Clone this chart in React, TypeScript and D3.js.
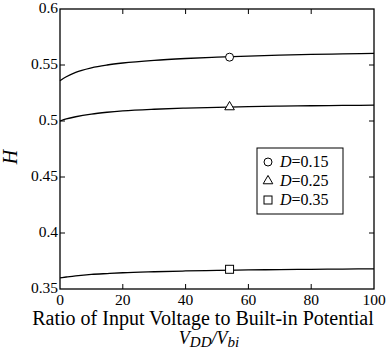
import React, { useEffect, useRef } from 'react';
import * as d3 from 'd3';

const xTicks = [0, 20, 40, 60, 80, 100];
const yTicks = [0.35, 0.4, 0.45, 0.5, 0.55, 0.6];
const yTickLabels = ['0.35', '0.4', '0.45', '0.5', '0.55', '0.6'];

const ratioX = [0, 2, 5, 10, 15, 20, 30, 40, 50, 60, 70, 80, 90, 100];
const hD015 = [0.536, 0.5395, 0.5435, 0.5475, 0.5500, 0.5518, 0.5542, 0.5558, 0.5570, 0.5580, 0.5588, 0.5594, 0.5599, 0.5603];
const hD025 = [0.500, 0.5018, 0.5038, 0.5062, 0.5078, 0.5090, 0.5105, 0.5115, 0.5122, 0.5128, 0.5133, 0.5136, 0.5139, 0.5141];
const hD035 = [0.3600, 0.3607, 0.3617, 0.3630, 0.3638, 0.3645, 0.3654, 0.3661, 0.3666, 0.3670, 0.3673, 0.3676, 0.3678, 0.3680];

const seriesNames = ['0.15', '0.25', '0.35'];
const markerKinds = ['circle', 'triangle', 'square'];
const markerX = [54, 54, 54];
const markerY = [0.557, 0.5125, 0.3676];

export default function App() {
  const ref = useRef<SVGSVGElement>(null);

  useEffect(() => {
    if (!ref.current) return;
    const svg = d3.select(ref.current);
    svg.selectAll('*').remove();

    const W = 388, H = 356;
    const left = 60, right = 374, top = 9, bottom = 289;
    const font = 'Liberation Serif';

    const x = d3.scaleLinear().domain([0, 100]).range([left, right]);
    const y = d3.scaleLinear().domain([0.35, 0.6]).range([bottom, top]);

    svg.attr('width', W).attr('height', H);
    svg.append('rect').attr('width', W).attr('height', H).attr('fill', '#fff');

    const tl = 5;
    const ax = svg.append('g').attr('stroke', '#000').attr('stroke-width', 1);
    xTicks.slice(1, -1).forEach(t => {
      ax.append('line').attr('x1', x(t)).attr('x2', x(t)).attr('y1', bottom).attr('y2', bottom - tl);
      ax.append('line').attr('x1', x(t)).attr('x2', x(t)).attr('y1', top).attr('y2', top + tl);
    });
    yTicks.slice(1, -1).forEach(t => {
      ax.append('line').attr('x1', left).attr('x2', left + tl).attr('y1', y(t)).attr('y2', y(t));
      ax.append('line').attr('x1', right).attr('x2', right - tl).attr('y1', y(t)).attr('y2', y(t));
    });
    ax.append('rect')
      .attr('x', left).attr('y', top)
      .attr('width', right - left).attr('height', bottom - top)
      .attr('fill', 'none').attr('stroke-width', 1.3);

    xTicks.forEach(t => {
      svg.append('text')
        .attr('x', x(t)).attr('y', 305)
        .attr('text-anchor', 'middle')
        .attr('font-family', font).attr('font-size', 15.5)
        .text(t);
    });
    yTicks.forEach((t, i) => {
      svg.append('text')
        .attr('x', left - 2).attr('y', y(t) + 4)
        .attr('text-anchor', 'end')
        .attr('font-family', font).attr('font-size', 15.5)
        .text(yTickLabels[i]);
    });

    svg.append('text')
      .attr('x', 203).attr('y', 325)
      .attr('text-anchor', 'middle')
      .attr('font-family', font).attr('font-size', 20)
      .text('Ratio of Input Voltage to Built-in Potential');

    const sub = svg.append('text')
      .attr('x', 209).attr('y', 344)
      .attr('text-anchor', 'middle')
      .attr('font-family', font).attr('font-size', 18).attr('font-style', 'italic');
    sub.append('tspan').text('V');
    sub.append('tspan').attr('dy', 3).attr('font-size', 15).text('DD');
    sub.append('tspan').attr('dy', -3).text('/V');
    sub.append('tspan').attr('dy', 3).attr('font-size', 15).text('bi');

    svg.append('text')
      .attr('transform', `translate(17,157) rotate(-90)`)
      .attr('text-anchor', 'middle')
      .attr('font-family', font).attr('font-size', 20).attr('font-style', 'italic')
      .text('H');

    const line = d3.line<number>()
      .x((_, i) => x(ratioX[i]))
      .y(d => y(d))
      .curve(d3.curveMonotoneX);

    [hD015, hD025, hD035].forEach(s => {
      svg.append('path')
        .attr('d', line(s))
        .attr('fill', 'none')
        .attr('stroke', '#000')
        .attr('stroke-width', 1.3);
    });

    const drawMarker = (kind: string, cx: number, cy: number) => {
      if (kind === 'circle') {
        svg.append('circle').attr('cx', cx).attr('cy', cy).attr('r', 4)
          .attr('fill', '#fff').attr('stroke', '#000').attr('stroke-width', 1);
      } else if (kind === 'triangle') {
        const s = d3.symbol().type(d3.symbolTriangle).size(40);
        svg.append('path').attr('d', s()).attr('transform', `translate(${cx},${cy})`)
          .attr('fill', '#fff').attr('stroke', '#000').attr('stroke-width', 1);
      } else {
        svg.append('rect').attr('x', cx - 4).attr('y', cy - 4).attr('width', 8).attr('height', 8)
          .attr('fill', '#fff').attr('stroke', '#000').attr('stroke-width', 1);
      }
    };

    markerKinds.forEach((k, i) => drawMarker(k, x(markerX[i]), y(markerY[i])));

    // legend
    svg.append('rect')
      .attr('x', 257).attr('y', 148).attr('width', 86).attr('height', 66)
      .attr('fill', '#fff').attr('stroke', '#000').attr('stroke-width', 1);
    seriesNames.forEach((n, i) => {
      const ly = 162 + i * 19;
      drawMarker(markerKinds[i], 268, ly);
      const t = svg.append('text')
        .attr('x', 280).attr('y', ly + 5)
        .attr('font-family', font).attr('font-size', 16);
      t.append('tspan').attr('font-style', 'italic').text('D');
      t.append('tspan').text('=' + n);
    });
  }, []);

  return <svg ref={ref} style={{ position: 'absolute', left: 0, top: 0, display: 'block' }}></svg>;
}
